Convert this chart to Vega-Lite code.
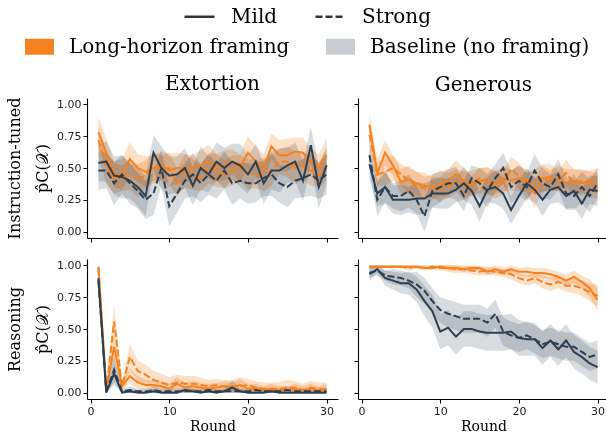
{
"$schema": "https://vega.github.io/schema/vega-lite/v6.json",
"padding": {"left": 6, "top": 0, "right": 0, "bottom": 0},
"datasets": {"d": [
{"p":"IE","f":"L","s":"Mild","r":1,"v":0.78,"lo":0.66,"hi":0.90},
{"p":"IE","f":"L","s":"Mild","r":2,"v":0.62,"lo":0.51,"hi":0.73},
{"p":"IE","f":"L","s":"Mild","r":3,"v":0.45,"lo":0.35,"hi":0.55},
{"p":"IE","f":"L","s":"Mild","r":4,"v":0.45,"lo":0.33,"hi":0.57},
{"p":"IE","f":"L","s":"Mild","r":5,"v":0.57,"lo":0.44,"hi":0.70},
{"p":"IE","f":"L","s":"Mild","r":6,"v":0.50,"lo":0.39,"hi":0.61},
{"p":"IE","f":"L","s":"Mild","r":7,"v":0.47,"lo":0.35,"hi":0.59},
{"p":"IE","f":"L","s":"Mild","r":8,"v":0.50,"lo":0.40,"hi":0.60},
{"p":"IE","f":"L","s":"Mild","r":9,"v":0.52,"lo":0.41,"hi":0.63},
{"p":"IE","f":"L","s":"Mild","r":10,"v":0.48,"lo":0.35,"hi":0.61},
{"p":"IE","f":"L","s":"Mild","r":11,"v":0.50,"lo":0.38,"hi":0.62},
{"p":"IE","f":"L","s":"Mild","r":12,"v":0.50,"lo":0.39,"hi":0.61},
{"p":"IE","f":"L","s":"Mild","r":13,"v":0.50,"lo":0.40,"hi":0.60},
{"p":"IE","f":"L","s":"Mild","r":14,"v":0.52,"lo":0.40,"hi":0.64},
{"p":"IE","f":"L","s":"Mild","r":15,"v":0.55,"lo":0.42,"hi":0.68},
{"p":"IE","f":"L","s":"Mild","r":16,"v":0.50,"lo":0.39,"hi":0.61},
{"p":"IE","f":"L","s":"Mild","r":17,"v":0.52,"lo":0.40,"hi":0.64},
{"p":"IE","f":"L","s":"Mild","r":18,"v":0.55,"lo":0.45,"hi":0.65},
{"p":"IE","f":"L","s":"Mild","r":19,"v":0.50,"lo":0.39,"hi":0.61},
{"p":"IE","f":"L","s":"Mild","r":20,"v":0.62,"lo":0.49,"hi":0.75},
{"p":"IE","f":"L","s":"Mild","r":21,"v":0.55,"lo":0.43,"hi":0.67},
{"p":"IE","f":"L","s":"Mild","r":22,"v":0.50,"lo":0.39,"hi":0.61},
{"p":"IE","f":"L","s":"Mild","r":23,"v":0.67,"lo":0.57,"hi":0.77},
{"p":"IE","f":"L","s":"Mild","r":24,"v":0.60,"lo":0.48,"hi":0.72},
{"p":"IE","f":"L","s":"Mild","r":25,"v":0.60,"lo":0.47,"hi":0.73},
{"p":"IE","f":"L","s":"Mild","r":26,"v":0.63,"lo":0.52,"hi":0.74},
{"p":"IE","f":"L","s":"Mild","r":27,"v":0.62,"lo":0.50,"hi":0.74},
{"p":"IE","f":"L","s":"Mild","r":28,"v":0.55,"lo":0.45,"hi":0.65},
{"p":"IE","f":"L","s":"Mild","r":29,"v":0.50,"lo":0.39,"hi":0.61},
{"p":"IE","f":"L","s":"Mild","r":30,"v":0.60,"lo":0.47,"hi":0.73},
{"p":"IE","f":"L","s":"Strong","r":1,"v":0.72,"lo":0.61,"hi":0.83},
{"p":"IE","f":"L","s":"Strong","r":2,"v":0.50,"lo":0.37,"hi":0.63},
{"p":"IE","f":"L","s":"Strong","r":3,"v":0.42,"lo":0.30,"hi":0.54},
{"p":"IE","f":"L","s":"Strong","r":4,"v":0.42,"lo":0.32,"hi":0.52},
{"p":"IE","f":"L","s":"Strong","r":5,"v":0.45,"lo":0.33,"hi":0.57},
{"p":"IE","f":"L","s":"Strong","r":6,"v":0.40,"lo":0.27,"hi":0.53},
{"p":"IE","f":"L","s":"Strong","r":7,"v":0.45,"lo":0.34,"hi":0.56},
{"p":"IE","f":"L","s":"Strong","r":8,"v":0.50,"lo":0.38,"hi":0.62},
{"p":"IE","f":"L","s":"Strong","r":9,"v":0.50,"lo":0.40,"hi":0.60},
{"p":"IE","f":"L","s":"Strong","r":10,"v":0.50,"lo":0.38,"hi":0.62},
{"p":"IE","f":"L","s":"Strong","r":11,"v":0.38,"lo":0.27,"hi":0.49},
{"p":"IE","f":"L","s":"Strong","r":12,"v":0.48,"lo":0.35,"hi":0.61},
{"p":"IE","f":"L","s":"Strong","r":13,"v":0.45,"lo":0.33,"hi":0.57},
{"p":"IE","f":"L","s":"Strong","r":14,"v":0.42,"lo":0.32,"hi":0.52},
{"p":"IE","f":"L","s":"Strong","r":15,"v":0.50,"lo":0.38,"hi":0.62},
{"p":"IE","f":"L","s":"Strong","r":16,"v":0.48,"lo":0.35,"hi":0.61},
{"p":"IE","f":"L","s":"Strong","r":17,"v":0.45,"lo":0.34,"hi":0.56},
{"p":"IE","f":"L","s":"Strong","r":18,"v":0.48,"lo":0.36,"hi":0.60},
{"p":"IE","f":"L","s":"Strong","r":19,"v":0.50,"lo":0.40,"hi":0.60},
{"p":"IE","f":"L","s":"Strong","r":20,"v":0.45,"lo":0.33,"hi":0.57},
{"p":"IE","f":"L","s":"Strong","r":21,"v":0.45,"lo":0.34,"hi":0.56},
{"p":"IE","f":"L","s":"Strong","r":22,"v":0.45,"lo":0.32,"hi":0.58},
{"p":"IE","f":"L","s":"Strong","r":23,"v":0.48,"lo":0.36,"hi":0.60},
{"p":"IE","f":"L","s":"Strong","r":24,"v":0.55,"lo":0.45,"hi":0.65},
{"p":"IE","f":"L","s":"Strong","r":25,"v":0.55,"lo":0.43,"hi":0.67},
{"p":"IE","f":"L","s":"Strong","r":26,"v":0.50,"lo":0.37,"hi":0.63},
{"p":"IE","f":"L","s":"Strong","r":27,"v":0.52,"lo":0.41,"hi":0.63},
{"p":"IE","f":"L","s":"Strong","r":28,"v":0.48,"lo":0.36,"hi":0.60},
{"p":"IE","f":"L","s":"Strong","r":29,"v":0.45,"lo":0.35,"hi":0.55},
{"p":"IE","f":"L","s":"Strong","r":30,"v":0.52,"lo":0.40,"hi":0.64},
{"p":"IE","f":"B","s":"Mild","r":1,"v":0.54,"lo":0.40,"hi":0.68},
{"p":"IE","f":"B","s":"Mild","r":2,"v":0.55,"lo":0.39,"hi":0.71},
{"p":"IE","f":"B","s":"Mild","r":3,"v":0.44,"lo":0.29,"hi":0.59},
{"p":"IE","f":"B","s":"Mild","r":4,"v":0.43,"lo":0.26,"hi":0.60},
{"p":"IE","f":"B","s":"Mild","r":5,"v":0.40,"lo":0.26,"hi":0.54},
{"p":"IE","f":"B","s":"Mild","r":6,"v":0.35,"lo":0.20,"hi":0.50},
{"p":"IE","f":"B","s":"Mild","r":7,"v":0.28,"lo":0.12,"hi":0.44},
{"p":"IE","f":"B","s":"Mild","r":8,"v":0.62,"lo":0.48,"hi":0.76},
{"p":"IE","f":"B","s":"Mild","r":9,"v":0.50,"lo":0.33,"hi":0.67},
{"p":"IE","f":"B","s":"Mild","r":10,"v":0.44,"lo":0.29,"hi":0.59},
{"p":"IE","f":"B","s":"Mild","r":11,"v":0.45,"lo":0.31,"hi":0.59},
{"p":"IE","f":"B","s":"Mild","r":12,"v":0.50,"lo":0.34,"hi":0.66},
{"p":"IE","f":"B","s":"Mild","r":13,"v":0.36,"lo":0.21,"hi":0.51},
{"p":"IE","f":"B","s":"Mild","r":14,"v":0.50,"lo":0.33,"hi":0.67},
{"p":"IE","f":"B","s":"Mild","r":15,"v":0.45,"lo":0.31,"hi":0.59},
{"p":"IE","f":"B","s":"Mild","r":16,"v":0.55,"lo":0.40,"hi":0.70},
{"p":"IE","f":"B","s":"Mild","r":17,"v":0.50,"lo":0.34,"hi":0.66},
{"p":"IE","f":"B","s":"Mild","r":18,"v":0.55,"lo":0.41,"hi":0.69},
{"p":"IE","f":"B","s":"Mild","r":19,"v":0.52,"lo":0.35,"hi":0.69},
{"p":"IE","f":"B","s":"Mild","r":20,"v":0.45,"lo":0.30,"hi":0.60},
{"p":"IE","f":"B","s":"Mild","r":21,"v":0.55,"lo":0.41,"hi":0.69},
{"p":"IE","f":"B","s":"Mild","r":22,"v":0.38,"lo":0.22,"hi":0.54},
{"p":"IE","f":"B","s":"Mild","r":23,"v":0.48,"lo":0.33,"hi":0.63},
{"p":"IE","f":"B","s":"Mild","r":24,"v":0.48,"lo":0.31,"hi":0.65},
{"p":"IE","f":"B","s":"Mild","r":25,"v":0.52,"lo":0.38,"hi":0.66},
{"p":"IE","f":"B","s":"Mild","r":26,"v":0.55,"lo":0.40,"hi":0.70},
{"p":"IE","f":"B","s":"Mild","r":27,"v":0.40,"lo":0.24,"hi":0.56},
{"p":"IE","f":"B","s":"Mild","r":28,"v":0.68,"lo":0.54,"hi":0.82},
{"p":"IE","f":"B","s":"Mild","r":29,"v":0.35,"lo":0.18,"hi":0.52},
{"p":"IE","f":"B","s":"Mild","r":30,"v":0.52,"lo":0.37,"hi":0.67},
{"p":"IE","f":"B","s":"Strong","r":1,"v":0.48,"lo":0.33,"hi":0.63},
{"p":"IE","f":"B","s":"Strong","r":2,"v":0.48,"lo":0.34,"hi":0.62},
{"p":"IE","f":"B","s":"Strong","r":3,"v":0.38,"lo":0.21,"hi":0.55},
{"p":"IE","f":"B","s":"Strong","r":4,"v":0.45,"lo":0.30,"hi":0.60},
{"p":"IE","f":"B","s":"Strong","r":5,"v":0.38,"lo":0.22,"hi":0.54},
{"p":"IE","f":"B","s":"Strong","r":6,"v":0.32,"lo":0.18,"hi":0.46},
{"p":"IE","f":"B","s":"Strong","r":7,"v":0.25,"lo":0.10,"hi":0.40},
{"p":"IE","f":"B","s":"Strong","r":8,"v":0.30,"lo":0.13,"hi":0.47},
{"p":"IE","f":"B","s":"Strong","r":9,"v":0.50,"lo":0.36,"hi":0.64},
{"p":"IE","f":"B","s":"Strong","r":10,"v":0.20,"lo":0.04,"hi":0.36},
{"p":"IE","f":"B","s":"Strong","r":11,"v":0.30,"lo":0.15,"hi":0.45},
{"p":"IE","f":"B","s":"Strong","r":12,"v":0.40,"lo":0.26,"hi":0.54},
{"p":"IE","f":"B","s":"Strong","r":13,"v":0.45,"lo":0.28,"hi":0.62},
{"p":"IE","f":"B","s":"Strong","r":14,"v":0.38,"lo":0.23,"hi":0.53},
{"p":"IE","f":"B","s":"Strong","r":15,"v":0.45,"lo":0.29,"hi":0.61},
{"p":"IE","f":"B","s":"Strong","r":16,"v":0.40,"lo":0.26,"hi":0.54},
{"p":"IE","f":"B","s":"Strong","r":17,"v":0.48,"lo":0.33,"hi":0.63},
{"p":"IE","f":"B","s":"Strong","r":18,"v":0.38,"lo":0.21,"hi":0.55},
{"p":"IE","f":"B","s":"Strong","r":19,"v":0.40,"lo":0.26,"hi":0.54},
{"p":"IE","f":"B","s":"Strong","r":20,"v":0.38,"lo":0.22,"hi":0.54},
{"p":"IE","f":"B","s":"Strong","r":21,"v":0.38,"lo":0.23,"hi":0.53},
{"p":"IE","f":"B","s":"Strong","r":22,"v":0.42,"lo":0.28,"hi":0.56},
{"p":"IE","f":"B","s":"Strong","r":23,"v":0.45,"lo":0.28,"hi":0.62},
{"p":"IE","f":"B","s":"Strong","r":24,"v":0.38,"lo":0.23,"hi":0.53},
{"p":"IE","f":"B","s":"Strong","r":25,"v":0.35,"lo":0.19,"hi":0.51},
{"p":"IE","f":"B","s":"Strong","r":26,"v":0.40,"lo":0.26,"hi":0.54},
{"p":"IE","f":"B","s":"Strong","r":27,"v":0.42,"lo":0.27,"hi":0.57},
{"p":"IE","f":"B","s":"Strong","r":28,"v":0.45,"lo":0.28,"hi":0.62},
{"p":"IE","f":"B","s":"Strong","r":29,"v":0.40,"lo":0.26,"hi":0.54},
{"p":"IE","f":"B","s":"Strong","r":30,"v":0.45,"lo":0.29,"hi":0.61},
{"p":"IG","f":"L","s":"Mild","r":1,"v":0.84,"lo":0.75,"hi":0.93},
{"p":"IG","f":"L","s":"Mild","r":2,"v":0.46,"lo":0.35,"hi":0.57},
{"p":"IG","f":"L","s":"Mild","r":3,"v":0.62,"lo":0.52,"hi":0.72},
{"p":"IG","f":"L","s":"Mild","r":4,"v":0.52,"lo":0.44,"hi":0.60},
{"p":"IG","f":"L","s":"Mild","r":5,"v":0.39,"lo":0.29,"hi":0.49},
{"p":"IG","f":"L","s":"Mild","r":6,"v":0.41,"lo":0.30,"hi":0.52},
{"p":"IG","f":"L","s":"Mild","r":7,"v":0.38,"lo":0.29,"hi":0.47},
{"p":"IG","f":"L","s":"Mild","r":8,"v":0.36,"lo":0.26,"hi":0.46},
{"p":"IG","f":"L","s":"Mild","r":9,"v":0.35,"lo":0.27,"hi":0.43},
{"p":"IG","f":"L","s":"Mild","r":10,"v":0.33,"lo":0.23,"hi":0.43},
{"p":"IG","f":"L","s":"Mild","r":11,"v":0.40,"lo":0.31,"hi":0.49},
{"p":"IG","f":"L","s":"Mild","r":12,"v":0.45,"lo":0.34,"hi":0.56},
{"p":"IG","f":"L","s":"Mild","r":13,"v":0.40,"lo":0.30,"hi":0.50},
{"p":"IG","f":"L","s":"Mild","r":14,"v":0.36,"lo":0.28,"hi":0.44},
{"p":"IG","f":"L","s":"Mild","r":15,"v":0.40,"lo":0.30,"hi":0.50},
{"p":"IG","f":"L","s":"Mild","r":16,"v":0.40,"lo":0.29,"hi":0.51},
{"p":"IG","f":"L","s":"Mild","r":17,"v":0.38,"lo":0.29,"hi":0.47},
{"p":"IG","f":"L","s":"Mild","r":18,"v":0.42,"lo":0.32,"hi":0.52},
{"p":"IG","f":"L","s":"Mild","r":19,"v":0.40,"lo":0.32,"hi":0.48},
{"p":"IG","f":"L","s":"Mild","r":20,"v":0.42,"lo":0.32,"hi":0.52},
{"p":"IG","f":"L","s":"Mild","r":21,"v":0.40,"lo":0.31,"hi":0.49},
{"p":"IG","f":"L","s":"Mild","r":22,"v":0.30,"lo":0.19,"hi":0.41},
{"p":"IG","f":"L","s":"Mild","r":23,"v":0.42,"lo":0.32,"hi":0.52},
{"p":"IG","f":"L","s":"Mild","r":24,"v":0.40,"lo":0.32,"hi":0.48},
{"p":"IG","f":"L","s":"Mild","r":25,"v":0.42,"lo":0.32,"hi":0.52},
{"p":"IG","f":"L","s":"Mild","r":26,"v":0.38,"lo":0.27,"hi":0.49},
{"p":"IG","f":"L","s":"Mild","r":27,"v":0.40,"lo":0.31,"hi":0.49},
{"p":"IG","f":"L","s":"Mild","r":28,"v":0.38,"lo":0.28,"hi":0.48},
{"p":"IG","f":"L","s":"Mild","r":29,"v":0.40,"lo":0.32,"hi":0.48},
{"p":"IG","f":"L","s":"Mild","r":30,"v":0.40,"lo":0.30,"hi":0.50},
{"p":"IG","f":"L","s":"Strong","r":1,"v":0.76,"lo":0.66,"hi":0.86},
{"p":"IG","f":"L","s":"Strong","r":2,"v":0.45,"lo":0.36,"hi":0.54},
{"p":"IG","f":"L","s":"Strong","r":3,"v":0.47,"lo":0.36,"hi":0.58},
{"p":"IG","f":"L","s":"Strong","r":4,"v":0.50,"lo":0.40,"hi":0.60},
{"p":"IG","f":"L","s":"Strong","r":5,"v":0.45,"lo":0.37,"hi":0.53},
{"p":"IG","f":"L","s":"Strong","r":6,"v":0.40,"lo":0.30,"hi":0.50},
{"p":"IG","f":"L","s":"Strong","r":7,"v":0.36,"lo":0.25,"hi":0.47},
{"p":"IG","f":"L","s":"Strong","r":8,"v":0.34,"lo":0.25,"hi":0.43},
{"p":"IG","f":"L","s":"Strong","r":9,"v":0.35,"lo":0.25,"hi":0.45},
{"p":"IG","f":"L","s":"Strong","r":10,"v":0.38,"lo":0.28,"hi":0.48},
{"p":"IG","f":"L","s":"Strong","r":11,"v":0.36,"lo":0.26,"hi":0.46},
{"p":"IG","f":"L","s":"Strong","r":12,"v":0.40,"lo":0.31,"hi":0.49},
{"p":"IG","f":"L","s":"Strong","r":13,"v":0.36,"lo":0.25,"hi":0.47},
{"p":"IG","f":"L","s":"Strong","r":14,"v":0.38,"lo":0.28,"hi":0.48},
{"p":"IG","f":"L","s":"Strong","r":15,"v":0.42,"lo":0.34,"hi":0.50},
{"p":"IG","f":"L","s":"Strong","r":16,"v":0.40,"lo":0.30,"hi":0.50},
{"p":"IG","f":"L","s":"Strong","r":17,"v":0.37,"lo":0.26,"hi":0.48},
{"p":"IG","f":"L","s":"Strong","r":18,"v":0.38,"lo":0.29,"hi":0.47},
{"p":"IG","f":"L","s":"Strong","r":19,"v":0.49,"lo":0.39,"hi":0.59},
{"p":"IG","f":"L","s":"Strong","r":20,"v":0.44,"lo":0.34,"hi":0.54},
{"p":"IG","f":"L","s":"Strong","r":21,"v":0.36,"lo":0.26,"hi":0.46},
{"p":"IG","f":"L","s":"Strong","r":22,"v":0.40,"lo":0.31,"hi":0.49},
{"p":"IG","f":"L","s":"Strong","r":23,"v":0.42,"lo":0.31,"hi":0.53},
{"p":"IG","f":"L","s":"Strong","r":24,"v":0.43,"lo":0.33,"hi":0.53},
{"p":"IG","f":"L","s":"Strong","r":25,"v":0.40,"lo":0.32,"hi":0.48},
{"p":"IG","f":"L","s":"Strong","r":26,"v":0.46,"lo":0.36,"hi":0.56},
{"p":"IG","f":"L","s":"Strong","r":27,"v":0.38,"lo":0.27,"hi":0.49},
{"p":"IG","f":"L","s":"Strong","r":28,"v":0.40,"lo":0.31,"hi":0.49},
{"p":"IG","f":"L","s":"Strong","r":29,"v":0.37,"lo":0.27,"hi":0.47},
{"p":"IG","f":"L","s":"Strong","r":30,"v":0.36,"lo":0.26,"hi":0.46},
{"p":"IG","f":"B","s":"Mild","r":1,"v":0.53,"lo":0.41,"hi":0.65},
{"p":"IG","f":"B","s":"Mild","r":2,"v":0.30,"lo":0.20,"hi":0.40},
{"p":"IG","f":"B","s":"Mild","r":3,"v":0.35,"lo":0.22,"hi":0.48},
{"p":"IG","f":"B","s":"Mild","r":4,"v":0.25,"lo":0.14,"hi":0.36},
{"p":"IG","f":"B","s":"Mild","r":5,"v":0.25,"lo":0.13,"hi":0.37},
{"p":"IG","f":"B","s":"Mild","r":6,"v":0.25,"lo":0.15,"hi":0.35},
{"p":"IG","f":"B","s":"Mild","r":7,"v":0.26,"lo":0.13,"hi":0.39},
{"p":"IG","f":"B","s":"Mild","r":8,"v":0.26,"lo":0.14,"hi":0.38},
{"p":"IG","f":"B","s":"Mild","r":9,"v":0.30,"lo":0.19,"hi":0.41},
{"p":"IG","f":"B","s":"Mild","r":10,"v":0.30,"lo":0.18,"hi":0.42},
{"p":"IG","f":"B","s":"Mild","r":11,"v":0.30,"lo":0.18,"hi":0.42},
{"p":"IG","f":"B","s":"Mild","r":12,"v":0.33,"lo":0.23,"hi":0.43},
{"p":"IG","f":"B","s":"Mild","r":13,"v":0.38,"lo":0.25,"hi":0.51},
{"p":"IG","f":"B","s":"Mild","r":14,"v":0.32,"lo":0.21,"hi":0.43},
{"p":"IG","f":"B","s":"Mild","r":15,"v":0.20,"lo":0.08,"hi":0.32},
{"p":"IG","f":"B","s":"Mild","r":16,"v":0.33,"lo":0.23,"hi":0.43},
{"p":"IG","f":"B","s":"Mild","r":17,"v":0.35,"lo":0.22,"hi":0.48},
{"p":"IG","f":"B","s":"Mild","r":18,"v":0.30,"lo":0.18,"hi":0.42},
{"p":"IG","f":"B","s":"Mild","r":19,"v":0.17,"lo":0.06,"hi":0.28},
{"p":"IG","f":"B","s":"Mild","r":20,"v":0.28,"lo":0.16,"hi":0.40},
{"p":"IG","f":"B","s":"Mild","r":21,"v":0.38,"lo":0.26,"hi":0.50},
{"p":"IG","f":"B","s":"Mild","r":22,"v":0.33,"lo":0.23,"hi":0.43},
{"p":"IG","f":"B","s":"Mild","r":23,"v":0.25,"lo":0.12,"hi":0.38},
{"p":"IG","f":"B","s":"Mild","r":24,"v":0.33,"lo":0.22,"hi":0.44},
{"p":"IG","f":"B","s":"Mild","r":25,"v":0.35,"lo":0.23,"hi":0.47},
{"p":"IG","f":"B","s":"Mild","r":26,"v":0.28,"lo":0.18,"hi":0.38},
{"p":"IG","f":"B","s":"Mild","r":27,"v":0.32,"lo":0.19,"hi":0.45},
{"p":"IG","f":"B","s":"Mild","r":28,"v":0.22,"lo":0.10,"hi":0.34},
{"p":"IG","f":"B","s":"Mild","r":29,"v":0.33,"lo":0.22,"hi":0.44},
{"p":"IG","f":"B","s":"Mild","r":30,"v":0.32,"lo":0.20,"hi":0.44},
{"p":"IG","f":"B","s":"Strong","r":1,"v":0.60,"lo":0.49,"hi":0.71},
{"p":"IG","f":"B","s":"Strong","r":2,"v":0.25,"lo":0.12,"hi":0.38},
{"p":"IG","f":"B","s":"Strong","r":3,"v":0.35,"lo":0.23,"hi":0.47},
{"p":"IG","f":"B","s":"Strong","r":4,"v":0.28,"lo":0.18,"hi":0.38},
{"p":"IG","f":"B","s":"Strong","r":5,"v":0.28,"lo":0.16,"hi":0.40},
{"p":"IG","f":"B","s":"Strong","r":6,"v":0.32,"lo":0.19,"hi":0.45},
{"p":"IG","f":"B","s":"Strong","r":7,"v":0.25,"lo":0.14,"hi":0.36},
{"p":"IG","f":"B","s":"Strong","r":8,"v":0.12,"lo":0.00,"hi":0.24},
{"p":"IG","f":"B","s":"Strong","r":9,"v":0.32,"lo":0.19,"hi":0.45},
{"p":"IG","f":"B","s":"Strong","r":10,"v":0.35,"lo":0.23,"hi":0.47},
{"p":"IG","f":"B","s":"Strong","r":11,"v":0.38,"lo":0.27,"hi":0.49},
{"p":"IG","f":"B","s":"Strong","r":12,"v":0.38,"lo":0.25,"hi":0.51},
{"p":"IG","f":"B","s":"Strong","r":13,"v":0.28,"lo":0.16,"hi":0.40},
{"p":"IG","f":"B","s":"Strong","r":14,"v":0.42,"lo":0.32,"hi":0.52},
{"p":"IG","f":"B","s":"Strong","r":15,"v":0.38,"lo":0.26,"hi":0.50},
{"p":"IG","f":"B","s":"Strong","r":16,"v":0.32,"lo":0.19,"hi":0.45},
{"p":"IG","f":"B","s":"Strong","r":17,"v":0.42,"lo":0.31,"hi":0.53},
{"p":"IG","f":"B","s":"Strong","r":18,"v":0.50,"lo":0.38,"hi":0.62},
{"p":"IG","f":"B","s":"Strong","r":19,"v":0.35,"lo":0.22,"hi":0.48},
{"p":"IG","f":"B","s":"Strong","r":20,"v":0.40,"lo":0.28,"hi":0.52},
{"p":"IG","f":"B","s":"Strong","r":21,"v":0.35,"lo":0.24,"hi":0.46},
{"p":"IG","f":"B","s":"Strong","r":22,"v":0.48,"lo":0.35,"hi":0.61},
{"p":"IG","f":"B","s":"Strong","r":23,"v":0.38,"lo":0.26,"hi":0.50},
{"p":"IG","f":"B","s":"Strong","r":24,"v":0.35,"lo":0.25,"hi":0.45},
{"p":"IG","f":"B","s":"Strong","r":25,"v":0.45,"lo":0.33,"hi":0.57},
{"p":"IG","f":"B","s":"Strong","r":26,"v":0.30,"lo":0.17,"hi":0.43},
{"p":"IG","f":"B","s":"Strong","r":27,"v":0.28,"lo":0.17,"hi":0.39},
{"p":"IG","f":"B","s":"Strong","r":28,"v":0.35,"lo":0.23,"hi":0.47},
{"p":"IG","f":"B","s":"Strong","r":29,"v":0.28,"lo":0.15,"hi":0.41},
{"p":"IG","f":"B","s":"Strong","r":30,"v":0.38,"lo":0.26,"hi":0.50},
{"p":"RE","f":"L","s":"Mild","r":1,"v":0.99,"lo":0.97,"hi":1.0},
{"p":"RE","f":"L","s":"Mild","r":2,"v":0.02,"lo":0.0,"hi":0.04},
{"p":"RE","f":"L","s":"Mild","r":3,"v":0.36,"lo":0.25,"hi":0.47},
{"p":"RE","f":"L","s":"Mild","r":4,"v":0.05,"lo":0.02,"hi":0.08},
{"p":"RE","f":"L","s":"Mild","r":5,"v":0.13,"lo":0.07,"hi":0.19},
{"p":"RE","f":"L","s":"Mild","r":6,"v":0.08,"lo":0.03,"hi":0.13},
{"p":"RE","f":"L","s":"Mild","r":7,"v":0.06,"lo":0.02,"hi":0.10},
{"p":"RE","f":"L","s":"Mild","r":8,"v":0.06,"lo":0.02,"hi":0.10},
{"p":"RE","f":"L","s":"Mild","r":9,"v":0.05,"lo":0.01,"hi":0.09},
{"p":"RE","f":"L","s":"Mild","r":10,"v":0.03,"lo":0.0,"hi":0.07},
{"p":"RE","f":"L","s":"Mild","r":11,"v":0.07,"lo":0.02,"hi":0.12},
{"p":"RE","f":"L","s":"Mild","r":12,"v":0.04,"lo":0.0,"hi":0.08},
{"p":"RE","f":"L","s":"Mild","r":13,"v":0.05,"lo":0.01,"hi":0.09},
{"p":"RE","f":"L","s":"Mild","r":14,"v":0.04,"lo":0.0,"hi":0.08},
{"p":"RE","f":"L","s":"Mild","r":15,"v":0.03,"lo":0.0,"hi":0.07},
{"p":"RE","f":"L","s":"Mild","r":16,"v":0.04,"lo":0.0,"hi":0.08},
{"p":"RE","f":"L","s":"Mild","r":17,"v":0.05,"lo":0.01,"hi":0.09},
{"p":"RE","f":"L","s":"Mild","r":18,"v":0.04,"lo":0.0,"hi":0.08},
{"p":"RE","f":"L","s":"Mild","r":19,"v":0.06,"lo":0.01,"hi":0.11},
{"p":"RE","f":"L","s":"Mild","r":20,"v":0.03,"lo":0.0,"hi":0.07},
{"p":"RE","f":"L","s":"Mild","r":21,"v":0.03,"lo":0.0,"hi":0.07},
{"p":"RE","f":"L","s":"Mild","r":22,"v":0.02,"lo":0.0,"hi":0.05},
{"p":"RE","f":"L","s":"Mild","r":23,"v":0.03,"lo":0.0,"hi":0.07},
{"p":"RE","f":"L","s":"Mild","r":24,"v":0.02,"lo":0.0,"hi":0.05},
{"p":"RE","f":"L","s":"Mild","r":25,"v":0.02,"lo":0.0,"hi":0.05},
{"p":"RE","f":"L","s":"Mild","r":26,"v":0.03,"lo":0.0,"hi":0.07},
{"p":"RE","f":"L","s":"Mild","r":27,"v":0.02,"lo":0.0,"hi":0.05},
{"p":"RE","f":"L","s":"Mild","r":28,"v":0.03,"lo":0.0,"hi":0.07},
{"p":"RE","f":"L","s":"Mild","r":29,"v":0.02,"lo":0.0,"hi":0.05},
{"p":"RE","f":"L","s":"Mild","r":30,"v":0.03,"lo":0.0,"hi":0.07},
{"p":"RE","f":"L","s":"Strong","r":1,"v":0.98,"lo":0.96,"hi":1.0},
{"p":"RE","f":"L","s":"Strong","r":2,"v":0.02,"lo":0.0,"hi":0.04},
{"p":"RE","f":"L","s":"Strong","r":3,"v":0.56,"lo":0.44,"hi":0.68},
{"p":"RE","f":"L","s":"Strong","r":4,"v":0.05,"lo":0.02,"hi":0.09},
{"p":"RE","f":"L","s":"Strong","r":5,"v":0.28,"lo":0.18,"hi":0.38},
{"p":"RE","f":"L","s":"Strong","r":6,"v":0.17,"lo":0.09,"hi":0.25},
{"p":"RE","f":"L","s":"Strong","r":7,"v":0.14,"lo":0.07,"hi":0.22},
{"p":"RE","f":"L","s":"Strong","r":8,"v":0.10,"lo":0.04,"hi":0.17},
{"p":"RE","f":"L","s":"Strong","r":9,"v":0.08,"lo":0.03,"hi":0.15},
{"p":"RE","f":"L","s":"Strong","r":10,"v":0.06,"lo":0.02,"hi":0.12},
{"p":"RE","f":"L","s":"Strong","r":11,"v":0.08,"lo":0.03,"hi":0.14},
{"p":"RE","f":"L","s":"Strong","r":12,"v":0.07,"lo":0.02,"hi":0.13},
{"p":"RE","f":"L","s":"Strong","r":13,"v":0.07,"lo":0.02,"hi":0.13},
{"p":"RE","f":"L","s":"Strong","r":14,"v":0.06,"lo":0.02,"hi":0.12},
{"p":"RE","f":"L","s":"Strong","r":15,"v":0.05,"lo":0.01,"hi":0.10},
{"p":"RE","f":"L","s":"Strong","r":16,"v":0.06,"lo":0.02,"hi":0.11},
{"p":"RE","f":"L","s":"Strong","r":17,"v":0.05,"lo":0.01,"hi":0.10},
{"p":"RE","f":"L","s":"Strong","r":18,"v":0.05,"lo":0.01,"hi":0.10},
{"p":"RE","f":"L","s":"Strong","r":19,"v":0.05,"lo":0.01,"hi":0.12},
{"p":"RE","f":"L","s":"Strong","r":20,"v":0.06,"lo":0.02,"hi":0.11},
{"p":"RE","f":"L","s":"Strong","r":21,"v":0.04,"lo":0.01,"hi":0.09},
{"p":"RE","f":"L","s":"Strong","r":22,"v":0.03,"lo":0.0,"hi":0.08},
{"p":"RE","f":"L","s":"Strong","r":23,"v":0.03,"lo":0.0,"hi":0.08},
{"p":"RE","f":"L","s":"Strong","r":24,"v":0.03,"lo":0.0,"hi":0.08},
{"p":"RE","f":"L","s":"Strong","r":25,"v":0.04,"lo":0.01,"hi":0.10},
{"p":"RE","f":"L","s":"Strong","r":26,"v":0.04,"lo":0.01,"hi":0.09},
{"p":"RE","f":"L","s":"Strong","r":27,"v":0.02,"lo":0.0,"hi":0.07},
{"p":"RE","f":"L","s":"Strong","r":28,"v":0.04,"lo":0.01,"hi":0.09},
{"p":"RE","f":"L","s":"Strong","r":29,"v":0.03,"lo":0.0,"hi":0.08},
{"p":"RE","f":"L","s":"Strong","r":30,"v":0.03,"lo":0.0,"hi":0.08},
{"p":"RE","f":"B","s":"Mild","r":1,"v":0.90,"lo":0.86,"hi":0.94},
{"p":"RE","f":"B","s":"Mild","r":2,"v":0.0,"lo":0.0,"hi":0.01},
{"p":"RE","f":"B","s":"Mild","r":3,"v":0.15,"lo":0.06,"hi":0.25},
{"p":"RE","f":"B","s":"Mild","r":4,"v":0.0,"lo":0.0,"hi":0.02},
{"p":"RE","f":"B","s":"Mild","r":5,"v":0.01,"lo":0.0,"hi":0.03},
{"p":"RE","f":"B","s":"Mild","r":6,"v":0.0,"lo":0.0,"hi":0.02},
{"p":"RE","f":"B","s":"Mild","r":7,"v":0.0,"lo":0.0,"hi":0.01},
{"p":"RE","f":"B","s":"Mild","r":8,"v":0.01,"lo":0.0,"hi":0.03},
{"p":"RE","f":"B","s":"Mild","r":9,"v":0.0,"lo":0.0,"hi":0.01},
{"p":"RE","f":"B","s":"Mild","r":10,"v":0.0,"lo":0.0,"hi":0.01},
{"p":"RE","f":"B","s":"Mild","r":11,"v":0.0,"lo":0.0,"hi":0.01},
{"p":"RE","f":"B","s":"Mild","r":12,"v":0.02,"lo":0.0,"hi":0.04},
{"p":"RE","f":"B","s":"Mild","r":13,"v":0.01,"lo":0.0,"hi":0.03},
{"p":"RE","f":"B","s":"Mild","r":14,"v":0.0,"lo":0.0,"hi":0.01},
{"p":"RE","f":"B","s":"Mild","r":15,"v":0.01,"lo":0.0,"hi":0.03},
{"p":"RE","f":"B","s":"Mild","r":16,"v":0.0,"lo":0.0,"hi":0.01},
{"p":"RE","f":"B","s":"Mild","r":17,"v":0.01,"lo":0.0,"hi":0.03},
{"p":"RE","f":"B","s":"Mild","r":18,"v":0.04,"lo":0.0,"hi":0.10},
{"p":"RE","f":"B","s":"Mild","r":19,"v":0.01,"lo":0.0,"hi":0.03},
{"p":"RE","f":"B","s":"Mild","r":20,"v":0.0,"lo":0.0,"hi":0.01},
{"p":"RE","f":"B","s":"Mild","r":21,"v":0.0,"lo":0.0,"hi":0.01},
{"p":"RE","f":"B","s":"Mild","r":22,"v":0.0,"lo":0.0,"hi":0.01},
{"p":"RE","f":"B","s":"Mild","r":23,"v":0.01,"lo":0.0,"hi":0.03},
{"p":"RE","f":"B","s":"Mild","r":24,"v":0.0,"lo":0.0,"hi":0.01},
{"p":"RE","f":"B","s":"Mild","r":25,"v":0.0,"lo":0.0,"hi":0.01},
{"p":"RE","f":"B","s":"Mild","r":26,"v":0.0,"lo":0.0,"hi":0.01},
{"p":"RE","f":"B","s":"Mild","r":27,"v":0.0,"lo":0.0,"hi":0.01},
{"p":"RE","f":"B","s":"Mild","r":28,"v":0.0,"lo":0.0,"hi":0.01},
{"p":"RE","f":"B","s":"Mild","r":29,"v":0.0,"lo":0.0,"hi":0.01},
{"p":"RE","f":"B","s":"Mild","r":30,"v":0.0,"lo":0.0,"hi":0.01},
{"p":"RE","f":"B","s":"Strong","r":1,"v":0.88,"lo":0.84,"hi":0.92},
{"p":"RE","f":"B","s":"Strong","r":2,"v":0.01,"lo":0.0,"hi":0.03},
{"p":"RE","f":"B","s":"Strong","r":3,"v":0.18,"lo":0.08,"hi":0.30},
{"p":"RE","f":"B","s":"Strong","r":4,"v":0.01,"lo":0.0,"hi":0.03},
{"p":"RE","f":"B","s":"Strong","r":5,"v":0.02,"lo":0.0,"hi":0.05},
{"p":"RE","f":"B","s":"Strong","r":6,"v":0.01,"lo":0.0,"hi":0.03},
{"p":"RE","f":"B","s":"Strong","r":7,"v":0.01,"lo":0.0,"hi":0.03},
{"p":"RE","f":"B","s":"Strong","r":8,"v":0.02,"lo":0.0,"hi":0.05},
{"p":"RE","f":"B","s":"Strong","r":9,"v":0.01,"lo":0.0,"hi":0.03},
{"p":"RE","f":"B","s":"Strong","r":10,"v":0.01,"lo":0.0,"hi":0.03},
{"p":"RE","f":"B","s":"Strong","r":11,"v":0.01,"lo":0.0,"hi":0.03},
{"p":"RE","f":"B","s":"Strong","r":12,"v":0.01,"lo":0.0,"hi":0.03},
{"p":"RE","f":"B","s":"Strong","r":13,"v":0.01,"lo":0.0,"hi":0.03},
{"p":"RE","f":"B","s":"Strong","r":14,"v":0.01,"lo":0.0,"hi":0.03},
{"p":"RE","f":"B","s":"Strong","r":15,"v":0.02,"lo":0.0,"hi":0.05},
{"p":"RE","f":"B","s":"Strong","r":16,"v":0.01,"lo":0.0,"hi":0.03},
{"p":"RE","f":"B","s":"Strong","r":17,"v":0.01,"lo":0.0,"hi":0.03},
{"p":"RE","f":"B","s":"Strong","r":18,"v":0.01,"lo":0.0,"hi":0.03},
{"p":"RE","f":"B","s":"Strong","r":19,"v":0.01,"lo":0.0,"hi":0.03},
{"p":"RE","f":"B","s":"Strong","r":20,"v":0.01,"lo":0.0,"hi":0.03},
{"p":"RE","f":"B","s":"Strong","r":21,"v":0.02,"lo":0.0,"hi":0.05},
{"p":"RE","f":"B","s":"Strong","r":22,"v":0.01,"lo":0.0,"hi":0.03},
{"p":"RE","f":"B","s":"Strong","r":23,"v":0.01,"lo":0.0,"hi":0.03},
{"p":"RE","f":"B","s":"Strong","r":24,"v":0.01,"lo":0.0,"hi":0.03},
{"p":"RE","f":"B","s":"Strong","r":25,"v":0.02,"lo":0.0,"hi":0.05},
{"p":"RE","f":"B","s":"Strong","r":26,"v":0.01,"lo":0.0,"hi":0.03},
{"p":"RE","f":"B","s":"Strong","r":27,"v":0.01,"lo":0.0,"hi":0.03},
{"p":"RE","f":"B","s":"Strong","r":28,"v":0.01,"lo":0.0,"hi":0.03},
{"p":"RE","f":"B","s":"Strong","r":29,"v":0.01,"lo":0.0,"hi":0.03},
{"p":"RE","f":"B","s":"Strong","r":30,"v":0.01,"lo":0.0,"hi":0.03},
{"p":"RG","f":"L","s":"Mild","r":1,"v":0.99,"lo":0.98,"hi":1.0},
{"p":"RG","f":"L","s":"Mild","r":2,"v":0.99,"lo":0.98,"hi":1.0},
{"p":"RG","f":"L","s":"Mild","r":3,"v":0.99,"lo":0.98,"hi":1.0},
{"p":"RG","f":"L","s":"Mild","r":4,"v":0.99,"lo":0.98,"hi":1.0},
{"p":"RG","f":"L","s":"Mild","r":5,"v":0.99,"lo":0.98,"hi":1.0},
{"p":"RG","f":"L","s":"Mild","r":6,"v":0.99,"lo":0.98,"hi":1.0},
{"p":"RG","f":"L","s":"Mild","r":7,"v":0.99,"lo":0.98,"hi":1.0},
{"p":"RG","f":"L","s":"Mild","r":8,"v":0.98,"lo":0.97,"hi":0.99},
{"p":"RG","f":"L","s":"Mild","r":9,"v":0.98,"lo":0.97,"hi":0.99},
{"p":"RG","f":"L","s":"Mild","r":10,"v":0.99,"lo":0.98,"hi":1.0},
{"p":"RG","f":"L","s":"Mild","r":11,"v":0.98,"lo":0.96,"hi":1.0},
{"p":"RG","f":"L","s":"Mild","r":12,"v":0.98,"lo":0.96,"hi":1.0},
{"p":"RG","f":"L","s":"Mild","r":13,"v":0.97,"lo":0.95,"hi":0.99},
{"p":"RG","f":"L","s":"Mild","r":14,"v":0.98,"lo":0.96,"hi":1.0},
{"p":"RG","f":"L","s":"Mild","r":15,"v":0.98,"lo":0.96,"hi":1.0},
{"p":"RG","f":"L","s":"Mild","r":16,"v":0.95,"lo":0.92,"hi":0.98},
{"p":"RG","f":"L","s":"Mild","r":17,"v":0.97,"lo":0.94,"hi":1.0},
{"p":"RG","f":"L","s":"Mild","r":18,"v":0.95,"lo":0.92,"hi":0.98},
{"p":"RG","f":"L","s":"Mild","r":19,"v":0.97,"lo":0.94,"hi":1.0},
{"p":"RG","f":"L","s":"Mild","r":20,"v":0.95,"lo":0.92,"hi":0.98},
{"p":"RG","f":"L","s":"Mild","r":21,"v":0.95,"lo":0.91,"hi":0.99},
{"p":"RG","f":"L","s":"Mild","r":22,"v":0.94,"lo":0.90,"hi":0.98},
{"p":"RG","f":"L","s":"Mild","r":23,"v":0.94,"lo":0.90,"hi":0.98},
{"p":"RG","f":"L","s":"Mild","r":24,"v":0.93,"lo":0.89,"hi":0.97},
{"p":"RG","f":"L","s":"Mild","r":25,"v":0.91,"lo":0.87,"hi":0.95},
{"p":"RG","f":"L","s":"Mild","r":26,"v":0.88,"lo":0.83,"hi":0.93},
{"p":"RG","f":"L","s":"Mild","r":27,"v":0.91,"lo":0.86,"hi":0.96},
{"p":"RG","f":"L","s":"Mild","r":28,"v":0.87,"lo":0.82,"hi":0.92},
{"p":"RG","f":"L","s":"Mild","r":29,"v":0.82,"lo":0.75,"hi":0.89},
{"p":"RG","f":"L","s":"Mild","r":30,"v":0.73,"lo":0.64,"hi":0.82},
{"p":"RG","f":"L","s":"Strong","r":1,"v":0.99,"lo":0.98,"hi":1.0},
{"p":"RG","f":"L","s":"Strong","r":2,"v":0.99,"lo":0.98,"hi":1.0},
{"p":"RG","f":"L","s":"Strong","r":3,"v":0.99,"lo":0.98,"hi":1.0},
{"p":"RG","f":"L","s":"Strong","r":4,"v":0.99,"lo":0.98,"hi":1.0},
{"p":"RG","f":"L","s":"Strong","r":5,"v":0.99,"lo":0.98,"hi":1.0},
{"p":"RG","f":"L","s":"Strong","r":6,"v":0.98,"lo":0.96,"hi":1.0},
{"p":"RG","f":"L","s":"Strong","r":7,"v":0.99,"lo":0.97,"hi":1.0},
{"p":"RG","f":"L","s":"Strong","r":8,"v":0.98,"lo":0.96,"hi":1.0},
{"p":"RG","f":"L","s":"Strong","r":9,"v":0.99,"lo":0.97,"hi":1.0},
{"p":"RG","f":"L","s":"Strong","r":10,"v":0.98,"lo":0.96,"hi":1.0},
{"p":"RG","f":"L","s":"Strong","r":11,"v":0.98,"lo":0.95,"hi":1.0},
{"p":"RG","f":"L","s":"Strong","r":12,"v":0.97,"lo":0.94,"hi":1.0},
{"p":"RG","f":"L","s":"Strong","r":13,"v":0.97,"lo":0.94,"hi":1.0},
{"p":"RG","f":"L","s":"Strong","r":14,"v":0.96,"lo":0.93,"hi":0.99},
{"p":"RG","f":"L","s":"Strong","r":15,"v":0.95,"lo":0.92,"hi":0.98},
{"p":"RG","f":"L","s":"Strong","r":16,"v":0.96,"lo":0.93,"hi":0.99},
{"p":"RG","f":"L","s":"Strong","r":17,"v":0.95,"lo":0.92,"hi":0.98},
{"p":"RG","f":"L","s":"Strong","r":18,"v":0.94,"lo":0.91,"hi":0.97},
{"p":"RG","f":"L","s":"Strong","r":19,"v":0.93,"lo":0.89,"hi":0.97},
{"p":"RG","f":"L","s":"Strong","r":20,"v":0.90,"lo":0.86,"hi":0.94},
{"p":"RG","f":"L","s":"Strong","r":21,"v":0.88,"lo":0.84,"hi":0.92},
{"p":"RG","f":"L","s":"Strong","r":22,"v":0.90,"lo":0.86,"hi":0.94},
{"p":"RG","f":"L","s":"Strong","r":23,"v":0.87,"lo":0.82,"hi":0.92},
{"p":"RG","f":"L","s":"Strong","r":24,"v":0.85,"lo":0.80,"hi":0.90},
{"p":"RG","f":"L","s":"Strong","r":25,"v":0.87,"lo":0.82,"hi":0.92},
{"p":"RG","f":"L","s":"Strong","r":26,"v":0.84,"lo":0.79,"hi":0.89},
{"p":"RG","f":"L","s":"Strong","r":27,"v":0.84,"lo":0.78,"hi":0.90},
{"p":"RG","f":"L","s":"Strong","r":28,"v":0.82,"lo":0.76,"hi":0.88},
{"p":"RG","f":"L","s":"Strong","r":29,"v":0.79,"lo":0.72,"hi":0.86},
{"p":"RG","f":"L","s":"Strong","r":30,"v":0.76,"lo":0.68,"hi":0.84},
{"p":"RG","f":"B","s":"Mild","r":1,"v":0.93,"lo":0.88,"hi":0.98},
{"p":"RG","f":"B","s":"Mild","r":2,"v":0.97,"lo":0.94,"hi":1.0},
{"p":"RG","f":"B","s":"Mild","r":3,"v":0.90,"lo":0.84,"hi":0.96},
{"p":"RG","f":"B","s":"Mild","r":4,"v":0.88,"lo":0.81,"hi":0.95},
{"p":"RG","f":"B","s":"Mild","r":5,"v":0.86,"lo":0.78,"hi":0.94},
{"p":"RG","f":"B","s":"Mild","r":6,"v":0.86,"lo":0.77,"hi":0.95},
{"p":"RG","f":"B","s":"Mild","r":7,"v":0.81,"lo":0.71,"hi":0.91},
{"p":"RG","f":"B","s":"Mild","r":8,"v":0.72,"lo":0.60,"hi":0.84},
{"p":"RG","f":"B","s":"Mild","r":9,"v":0.64,"lo":0.51,"hi":0.77},
{"p":"RG","f":"B","s":"Mild","r":10,"v":0.48,"lo":0.34,"hi":0.62},
{"p":"RG","f":"B","s":"Mild","r":11,"v":0.51,"lo":0.37,"hi":0.65},
{"p":"RG","f":"B","s":"Mild","r":12,"v":0.44,"lo":0.30,"hi":0.58},
{"p":"RG","f":"B","s":"Mild","r":13,"v":0.50,"lo":0.36,"hi":0.64},
{"p":"RG","f":"B","s":"Mild","r":14,"v":0.50,"lo":0.36,"hi":0.64},
{"p":"RG","f":"B","s":"Mild","r":15,"v":0.48,"lo":0.34,"hi":0.62},
{"p":"RG","f":"B","s":"Mild","r":16,"v":0.47,"lo":0.33,"hi":0.61},
{"p":"RG","f":"B","s":"Mild","r":17,"v":0.47,"lo":0.33,"hi":0.61},
{"p":"RG","f":"B","s":"Mild","r":18,"v":0.47,"lo":0.33,"hi":0.61},
{"p":"RG","f":"B","s":"Mild","r":19,"v":0.48,"lo":0.34,"hi":0.62},
{"p":"RG","f":"B","s":"Mild","r":20,"v":0.43,"lo":0.29,"hi":0.57},
{"p":"RG","f":"B","s":"Mild","r":21,"v":0.42,"lo":0.29,"hi":0.55},
{"p":"RG","f":"B","s":"Mild","r":22,"v":0.42,"lo":0.29,"hi":0.55},
{"p":"RG","f":"B","s":"Mild","r":23,"v":0.35,"lo":0.22,"hi":0.48},
{"p":"RG","f":"B","s":"Mild","r":24,"v":0.41,"lo":0.28,"hi":0.54},
{"p":"RG","f":"B","s":"Mild","r":25,"v":0.34,"lo":0.21,"hi":0.47},
{"p":"RG","f":"B","s":"Mild","r":26,"v":0.41,"lo":0.28,"hi":0.54},
{"p":"RG","f":"B","s":"Mild","r":27,"v":0.32,"lo":0.19,"hi":0.45},
{"p":"RG","f":"B","s":"Mild","r":28,"v":0.28,"lo":0.15,"hi":0.41},
{"p":"RG","f":"B","s":"Mild","r":29,"v":0.23,"lo":0.10,"hi":0.36},
{"p":"RG","f":"B","s":"Mild","r":30,"v":0.20,"lo":0.07,"hi":0.33},
{"p":"RG","f":"B","s":"Strong","r":1,"v":0.94,"lo":0.90,"hi":0.98},
{"p":"RG","f":"B","s":"Strong","r":2,"v":0.96,"lo":0.92,"hi":1.0},
{"p":"RG","f":"B","s":"Strong","r":3,"v":0.92,"lo":0.88,"hi":0.96},
{"p":"RG","f":"B","s":"Strong","r":4,"v":0.91,"lo":0.85,"hi":0.97},
{"p":"RG","f":"B","s":"Strong","r":5,"v":0.90,"lo":0.84,"hi":0.96},
{"p":"RG","f":"B","s":"Strong","r":6,"v":0.88,"lo":0.82,"hi":0.94},
{"p":"RG","f":"B","s":"Strong","r":7,"v":0.85,"lo":0.75,"hi":0.95},
{"p":"RG","f":"B","s":"Strong","r":8,"v":0.80,"lo":0.70,"hi":0.90},
{"p":"RG","f":"B","s":"Strong","r":9,"v":0.72,"lo":0.62,"hi":0.82},
{"p":"RG","f":"B","s":"Strong","r":10,"v":0.65,"lo":0.55,"hi":0.75},
{"p":"RG","f":"B","s":"Strong","r":11,"v":0.62,"lo":0.51,"hi":0.73},
{"p":"RG","f":"B","s":"Strong","r":12,"v":0.60,"lo":0.49,"hi":0.71},
{"p":"RG","f":"B","s":"Strong","r":13,"v":0.58,"lo":0.47,"hi":0.69},
{"p":"RG","f":"B","s":"Strong","r":14,"v":0.58,"lo":0.47,"hi":0.69},
{"p":"RG","f":"B","s":"Strong","r":15,"v":0.58,"lo":0.47,"hi":0.69},
{"p":"RG","f":"B","s":"Strong","r":16,"v":0.55,"lo":0.44,"hi":0.66},
{"p":"RG","f":"B","s":"Strong","r":17,"v":0.62,"lo":0.51,"hi":0.73},
{"p":"RG","f":"B","s":"Strong","r":18,"v":0.48,"lo":0.37,"hi":0.59},
{"p":"RG","f":"B","s":"Strong","r":19,"v":0.45,"lo":0.34,"hi":0.56},
{"p":"RG","f":"B","s":"Strong","r":20,"v":0.43,"lo":0.32,"hi":0.54},
{"p":"RG","f":"B","s":"Strong","r":21,"v":0.45,"lo":0.34,"hi":0.56},
{"p":"RG","f":"B","s":"Strong","r":22,"v":0.42,"lo":0.31,"hi":0.53},
{"p":"RG","f":"B","s":"Strong","r":23,"v":0.38,"lo":0.27,"hi":0.49},
{"p":"RG","f":"B","s":"Strong","r":24,"v":0.40,"lo":0.29,"hi":0.51},
{"p":"RG","f":"B","s":"Strong","r":25,"v":0.38,"lo":0.27,"hi":0.49},
{"p":"RG","f":"B","s":"Strong","r":26,"v":0.36,"lo":0.25,"hi":0.47},
{"p":"RG","f":"B","s":"Strong","r":27,"v":0.36,"lo":0.25,"hi":0.47},
{"p":"RG","f":"B","s":"Strong","r":28,"v":0.32,"lo":0.21,"hi":0.43},
{"p":"RG","f":"B","s":"Strong","r":29,"v":0.28,"lo":0.17,"hi":0.39},
{"p":"RG","f":"B","s":"Strong","r":30,"v":0.30,"lo":0.19,"hi":0.41}
]},
"data": {"name": "d"},
"spacing": 16,
"vconcat": [
{"hconcat": [
{"width": 251, "height": 140, "title": "Extortion",
 "transform": [{"filter": "datum.p === 'IE'"}],
 "encoding": {"x": {"field": "r", "type": "quantitative", "scale": {"domain": [-0.45, 31.45], "nice": false, "zero": false}, "axis": {"values": [0, 10, 20, 30], "labels": false, "title": null}}},
 "layer": [
  {"mark": {"type": "line", "strokeWidth": 2, "opacity": 0},
   "encoding": {
    "y": {"field": "v", "type": "quantitative", "scale": {"domain": [-0.05, 1.05], "nice": false, "zero": false}, "axis": {"values": [0, 0.25, 0.5, 0.75, 1], "format": ".2f", "title": ["Instruction-tuned", "p̂C(𝒳)"]}},
    "detail": {"field": "f"},
    "strokeDash": {"field": "s", "type": "nominal", "scale": {"domain": ["Mild", "Strong"], "range": [[1, 0], [7, 3]]},
      "legend": {"title": null, "orient": "top", "direction": "horizontal", "symbolType": "stroke", "symbolStrokeColor": "#333333", "symbolStrokeWidth": 2.5, "symbolSize": 900, "symbolOpacity": 1, "labelOffset": 15, "columnPadding": 32, "labelLimit": 400}}}},
  {"mark": {"type": "area", "blend": "multiply"},
   "encoding": {
    "y": {"field": "lo", "type": "quantitative", "scale": {"domain": [-0.05, 1.05], "nice": false, "zero": false}, "axis": {"values": [0, 0.25, 0.5, 0.75, 1], "format": ".2f", "title": ["Instruction-tuned", "p̂C(𝒳)"]}},
    "y2": {"field": "hi"},
    "fill": {"field": "f", "type": "nominal", "scale": {"domain": ["L", "B"], "range": ["#f58220", "#c9cdd2"]},
      "legend": {"title": null, "orient": "top", "direction": "horizontal", "labelExpr": "datum.value === 'L' ? 'Long-horizon framing' : 'Baseline (no framing)'", "symbolType": "M-1,-0.55H1V0.55H-1Z", "symbolSize": 841, "symbolOpacity": 1, "symbolStrokeWidth": 0, "labelOffset": 15, "columnPadding": 36, "labelLimit": 400}},
    "fillOpacity": {"field": "f", "type": "nominal", "scale": {"domain": ["L", "B"], "range": [0.25, 0.7]}, "legend": null},
    "detail": {"field": "s"}}},
  {"mark": {"type": "line", "strokeWidth": 2},
   "encoding": {
    "y": {"field": "v", "type": "quantitative", "scale": {"domain": [-0.05, 1.05], "nice": false, "zero": false}, "axis": {"values": [0, 0.25, 0.5, 0.75, 1], "format": ".2f", "title": ["Instruction-tuned", "p̂C(𝒳)"]}},
    "stroke": {"field": "f", "type": "nominal", "scale": {"domain": ["L", "B"], "range": ["#f58220", "#2c3e50"]}, "legend": null},
    "strokeDash": {"field": "s", "type": "nominal"}}}
 ]},
{"width": 251, "height": 140, "title": "Generous",
 "transform": [{"filter": "datum.p === 'IG'"}],
 "encoding": {"x": {"field": "r", "type": "quantitative", "scale": {"domain": [-0.45, 31.45], "nice": false, "zero": false}, "axis": {"values": [0, 10, 20, 30], "labels": false, "title": null}}},
 "layer": [
  {"mark": {"type": "area", "blend": "multiply"},
   "encoding": {
    "y": {"field": "lo", "type": "quantitative", "scale": {"domain": [-0.05, 1.05], "nice": false, "zero": false}, "axis": {"values": [0, 0.25, 0.5, 0.75, 1], "labels": false, "title": null}},
    "y2": {"field": "hi"},
    "fill": {"field": "f", "type": "nominal"},
    "fillOpacity": {"field": "f", "type": "nominal", "legend": null},
    "detail": {"field": "s"}}},
  {"mark": {"type": "line", "strokeWidth": 2},
   "encoding": {
    "y": {"field": "v", "type": "quantitative", "scale": {"domain": [-0.05, 1.05], "nice": false, "zero": false}, "axis": {"values": [0, 0.25, 0.5, 0.75, 1], "labels": false, "title": null}},
    "stroke": {"field": "f", "type": "nominal", "legend": null},
    "strokeDash": {"field": "s", "type": "nominal"}}}
 ]}
], "spacing": 15},
{"hconcat": [
{"width": 251, "height": 140,
 "transform": [{"filter": "datum.p === 'RE'"}],
 "encoding": {"x": {"field": "r", "type": "quantitative", "scale": {"domain": [-0.45, 31.45], "nice": false, "zero": false}, "axis": {"values": [0, 10, 20, 30], "title": "Round"}}},
 "layer": [
  {"mark": {"type": "area", "blend": "multiply"},
   "encoding": {
    "y": {"field": "lo", "type": "quantitative", "scale": {"domain": [-0.05, 1.05], "nice": false, "zero": false}, "axis": {"values": [0, 0.25, 0.5, 0.75, 1], "format": ".2f", "title": ["Reasoning", "p̂C(𝒳)"]}},
    "y2": {"field": "hi"},
    "fill": {"field": "f", "type": "nominal"},
    "fillOpacity": {"field": "f", "type": "nominal", "legend": null},
    "detail": {"field": "s"}}},
  {"mark": {"type": "line", "strokeWidth": 2},
   "encoding": {
    "y": {"field": "v", "type": "quantitative", "scale": {"domain": [-0.05, 1.05], "nice": false, "zero": false}, "axis": {"values": [0, 0.25, 0.5, 0.75, 1], "format": ".2f", "title": ["Reasoning", "p̂C(𝒳)"]}},
    "stroke": {"field": "f", "type": "nominal", "legend": null},
    "strokeDash": {"field": "s", "type": "nominal"}}}
 ]},
{"width": 251, "height": 140,
 "transform": [{"filter": "datum.p === 'RG'"}],
 "encoding": {"x": {"field": "r", "type": "quantitative", "scale": {"domain": [-0.45, 31.45], "nice": false, "zero": false}, "axis": {"values": [0, 10, 20, 30], "title": "Round"}}},
 "layer": [
  {"mark": {"type": "area", "blend": "multiply"},
   "encoding": {
    "y": {"field": "lo", "type": "quantitative", "scale": {"domain": [-0.05, 1.05], "nice": false, "zero": false}, "axis": {"values": [0, 0.25, 0.5, 0.75, 1], "labels": false, "title": null}},
    "y2": {"field": "hi"},
    "fill": {"field": "f", "type": "nominal"},
    "fillOpacity": {"field": "f", "type": "nominal", "legend": null},
    "detail": {"field": "s"}}},
  {"mark": {"type": "line", "strokeWidth": 2},
   "encoding": {
    "y": {"field": "v", "type": "quantitative", "scale": {"domain": [-0.05, 1.05], "nice": false, "zero": false}, "axis": {"values": [0, 0.25, 0.5, 0.75, 1], "labels": false, "title": null}},
    "stroke": {"field": "f", "type": "nominal", "legend": null},
    "strokeDash": {"field": "s", "type": "nominal"}}}
 ]}
], "spacing": 15}
],
"config": {
 "view": {"stroke": null},
 "axis": {"grid": false, "domainColor": "#000000", "domainWidth": 1.1, "tickColor": "#000000", "tickSize": 4, "labelFont": "DejaVu Sans", "labelFontSize": 11, "labelColor": "#222222", "labelPadding": 2, "titleFont": "DejaVu Serif", "titleFontSize": 15, "titleFontWeight": "normal", "titleColor": "#000000", "titleLineHeight": 28},
 "axisX": {"titleFontSize": 14, "titlePadding": 3},
 "axisY": {"titlePadding": 6, "titleFontSize": 16},
 "title": {"font": "DejaVu Serif", "fontSize": 20, "fontWeight": "normal", "color": "#000000", "offset": 3},
 "legend": {"labelFont": "DejaVu Serif", "labelFontSize": 20, "labelColor": "#000000", "offset": 17, "padding": 0, "layout": {"top": {"anchor": "middle", "direction": "vertical", "center": true, "margin": 5}}}
}
}
